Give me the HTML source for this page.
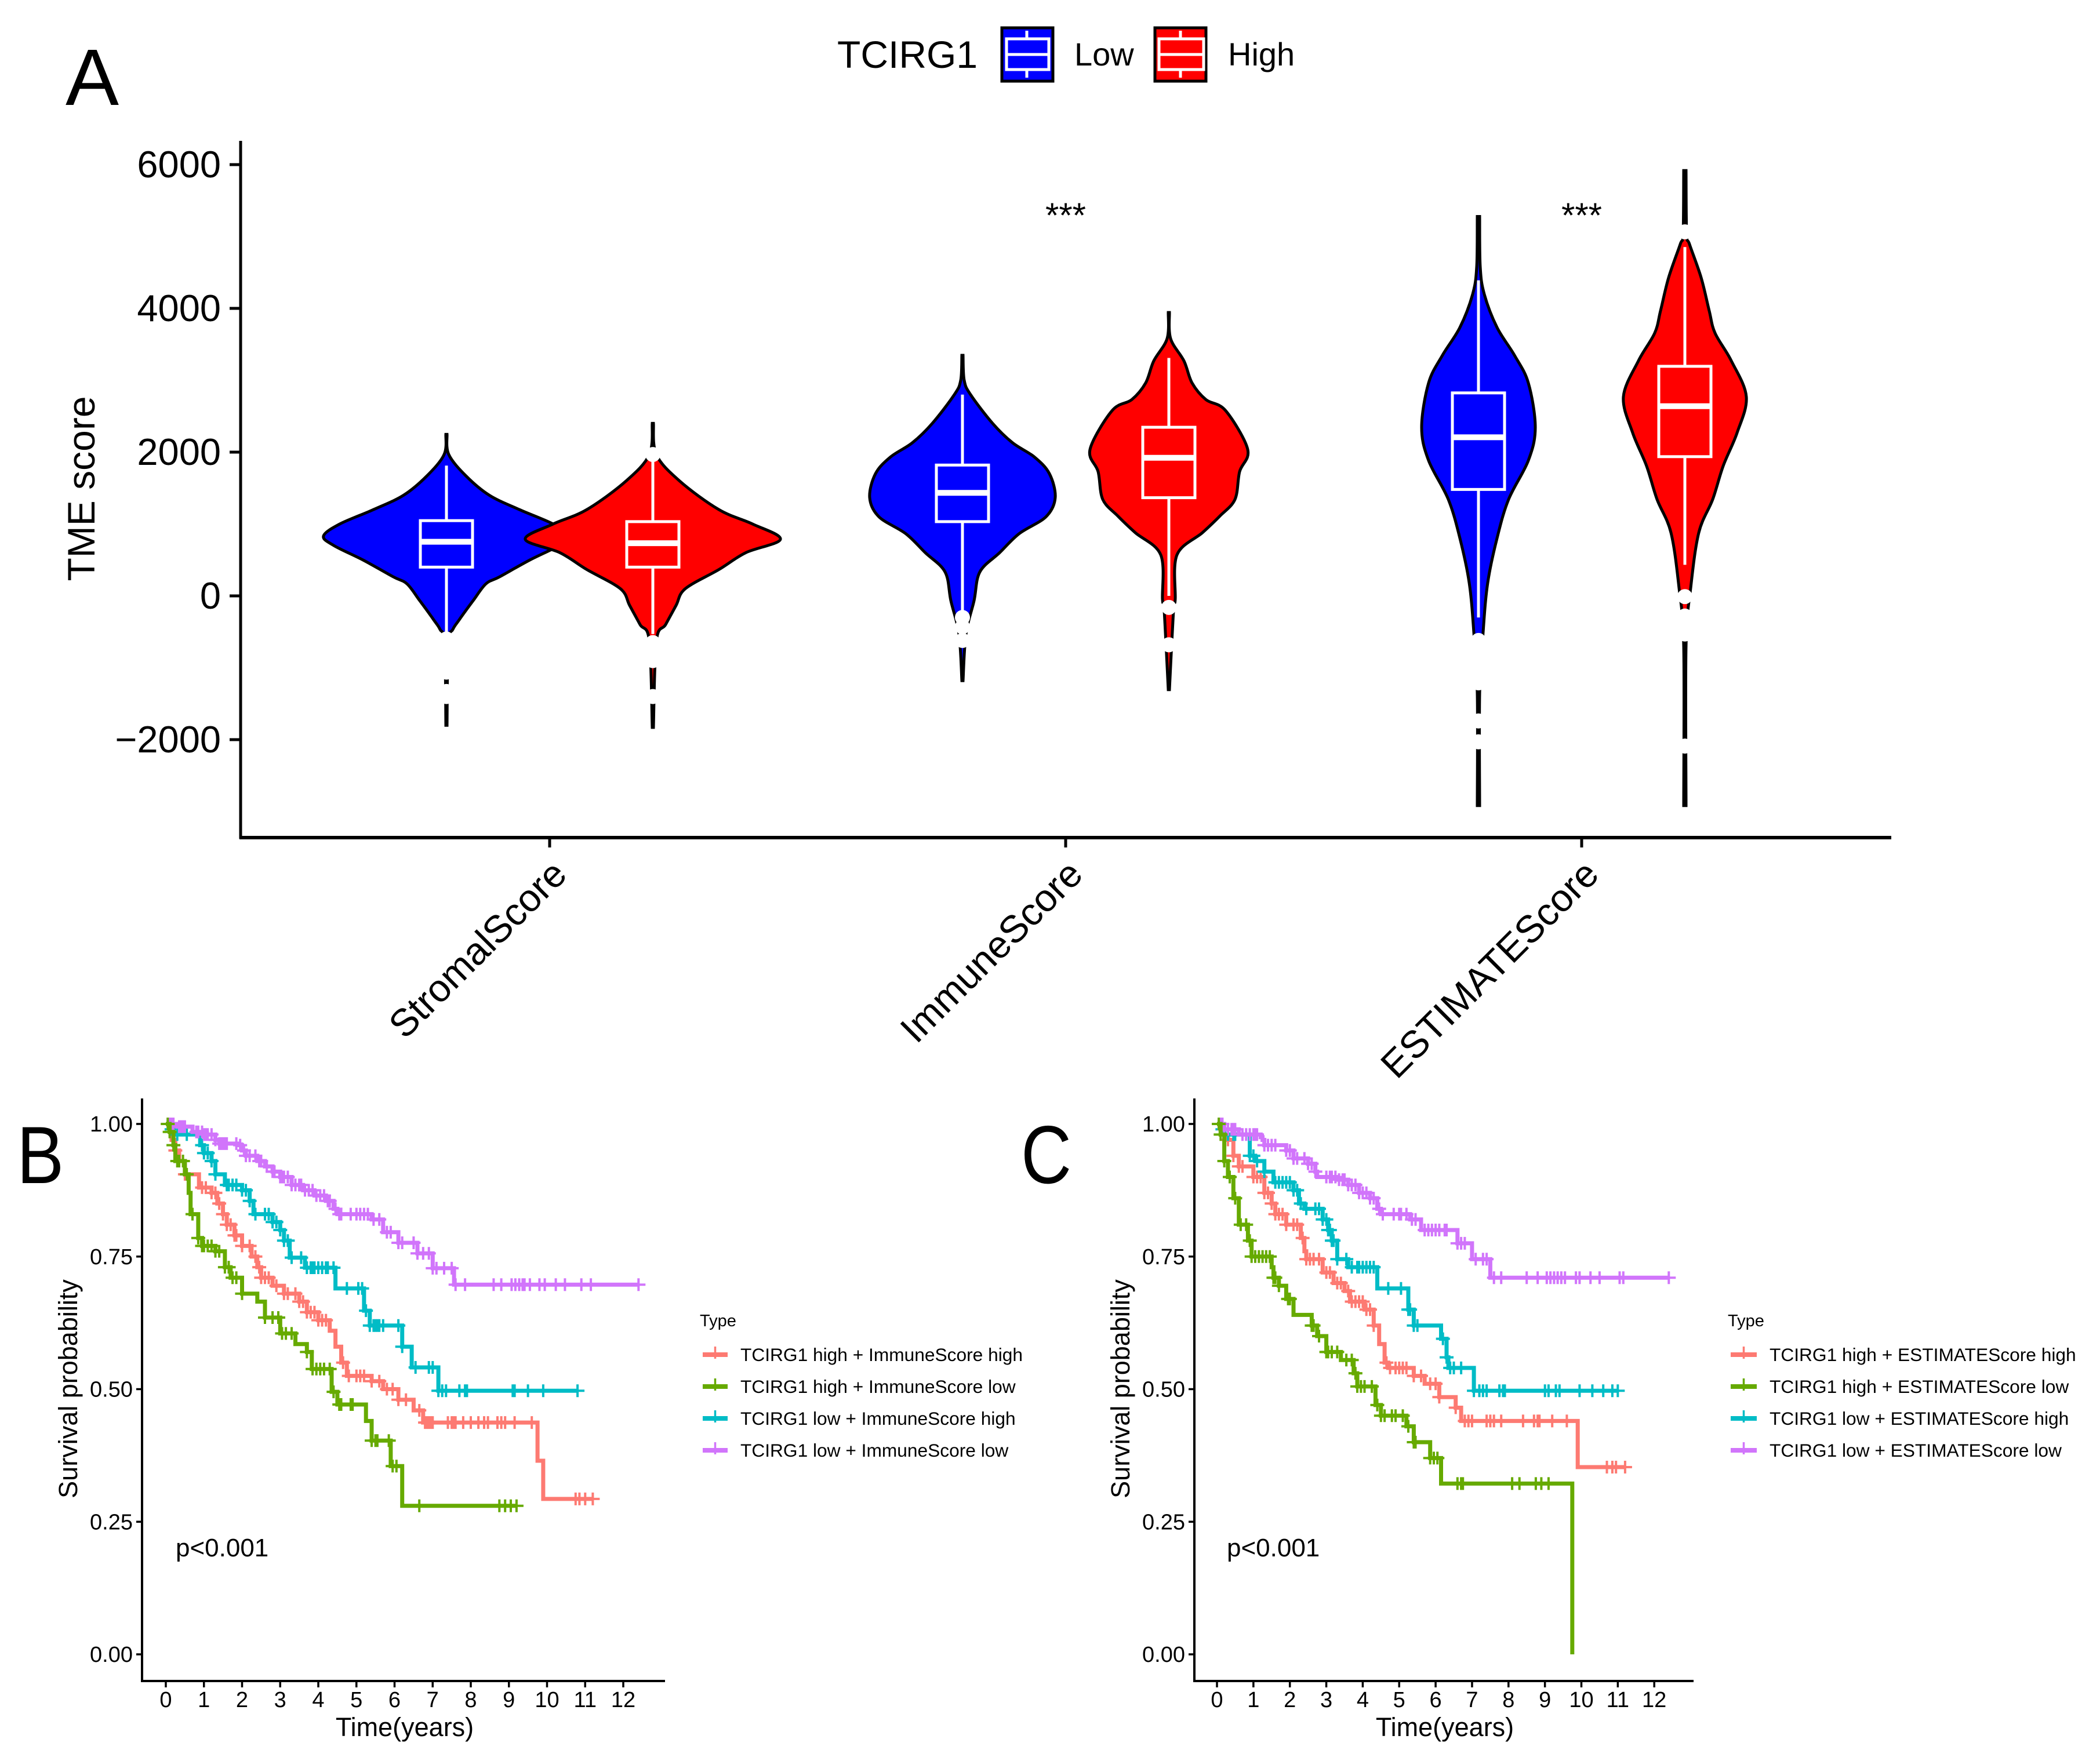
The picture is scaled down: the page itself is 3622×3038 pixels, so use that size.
<!DOCTYPE html>
<html lang="en">
<head>
<meta charset="utf-8">
<title>TCIRG1 TME score and survival</title>
<style>
html,body{margin:0;padding:0;background:#fff;}
svg{display:block;font-family:"Liberation Sans",sans-serif;}
</style>
</head>
<body>
<svg id="figure" xmlns="http://www.w3.org/2000/svg" width="3622" height="3038" viewBox="0 0 3622 3038">
<rect x="0" y="0" width="3622" height="3038" fill="#fff"/>
<text x="113" y="181" font-size="138">A</text>
<text transform="translate(29,2041) scale(.87,1)" font-size="140">B</text>
<text transform="translate(1761,2041) scale(.85,1)" font-size="142">C</text>
<text x="1444" y="117" font-size="66">TCIRG1</text>
<g>
<rect x="1728" y="48" width="88" height="92" fill="#0000ff" stroke="#000" stroke-width="5"/>
<path d="M1771 53V67M1771 120V134M1736 67H1809V120H1736ZM1736 94H1809" fill="none" stroke="#fff" stroke-width="5"/>
<text x="1853" y="113" font-size="56">Low</text>
</g>
<g>
<rect x="1992" y="48" width="88" height="92" fill="#ff0000" stroke="#000" stroke-width="5"/>
<path d="M2036 53V67M2036 120V134M1999 67H2076V120H1999ZM1999 94H2076" fill="none" stroke="#fff" stroke-width="5"/>
<text x="2118" y="113" font-size="56">High</text>
</g>
<text transform="translate(163,843) rotate(-90)" text-anchor="middle" font-size="66">TME score</text>
<text x="1838" y="392" text-anchor="middle" font-size="60">***</text>
<text x="2728" y="392" text-anchor="middle" font-size="60">***</text>
<g id="violinPlot"></g>
<g id="kmB"></g>
<g id="kmC"></g>
</svg>
<script>
/* ---------- Panel A data ---------- */
const categories = ["StromalScore", "ImmuneScore", "ESTIMATEScore"];
const violinTicks = [6000, 4000, 2000, 0, -2000];

const stromalLowValues = [2247,1967,1667,1400,1200,1000,833,700,500,267,167,-67,-333,-467,-667,-1800];
const stromalLowDensity = [0.5,2,17,37,63,92,106,97,72,46,34,23,11,5.5,1.5,0.5];
const stromalHighValues = [2400,1967,1600,1200,1000,787,600,367,100,-133,-400,-633,-1830];
const stromalHighDensity = [0.5,3,23,57,86,110,80,57,28,20,11,3,0.5];
const immuneLowValues = [3347,3000,2800,2400,2133,1933,1700,1367,1100,867,600,333,-67,-533,-1180];
const immuneLowDensity = [0.5,1.5,7,26,43,62,75,80,72,49,32,15,10,3,0.5];
const immuneHighValues = [3943,3580,3270,2963,2731,2577,2037,1728,1342,1111,880,571,-46,-200,-1304];
const immuneHighDensity = [0.5,1.5,13,20,32,49,68,61,57,44,29,7,5.5,4,0.5];
const estimateLowValues = [5278,4583,4198,3735,3349,2963,2346,1883,1343,802,185,-509,-1358,-2917];
const estimateLowDensity = [1,1.5,5,16,31,43,49,43,26,16,8,4,1,1];
const estimateHighValues = [5918,5046,4892,4429,3966,3657,3272,2770,2268,1806,1343,880,108,-700,-2917];
const estimateHighDensity = [1,1.5,4,14,21,26,40,53,45,33,24,12,5,1,1];

/* box statistics in the order: stromal low/high, immune low/high, estimate low/high */
const boxQ1 = [400,400,1033,1366,1481,1937];
const boxMedian = [753,733,1433,1921,2207,2639];
const boxQ3 = [1047,1033,1820,2346,2824,3194];
const whiskerLow = [-533,-530,-280,0,-300,432];
const whiskerHigh = [1813,1867,2800,3310,4390,4853];

const stromalLowOutliers = [-600,-700,-800,-900,-1000,-1060,-1330,-1400];
const stromalHighOutliers = [1967,-650,-730,-830,-900,-1400];
const immuneLowOutliers = [-300,-430,-620];
const immuneHighOutliers = [-160,-680];
const estimateLowOutliers = [-620,-770,-920,-1060,-1210,-1740,-2030];
const estimateHighOutliers = [5065,-10,-280,-400,-530,-2090];

/* ---------- Panel B data ---------- */
const survivalTicksX = [0,1,2,3,4,5,6,7,8,9,10,11,12];
const survivalTicksY = [1,0.75,0.5,0.25,0];

const bSalmonTimes = [0,.15,.25,.35,.5,.87,1.2,1.35,1.5,1.6,1.8,2.0,2.25,2.4,2.5,2.8,3.1,3.5,3.7,4.0,4.3,4.45,4.6,4.75,5.4,5.7,6.1,6.5,6.75,9.75,9.9,11.2];
const bSalmonSurv = [1,.97,.95,.93,.905,.88,.87,.85,.83,.81,.79,.77,.75,.73,.71,.695,.68,.665,.645,.63,.61,.58,.55,.525,.515,.50,.48,.46,.437,.365,.293,.293];
const bSalmonCensor = [.1,.25,.35,.5,.95,1.05,1.2,1.3,1.4,1.5,1.6,1.7,1.8,1.85,2.0,2.2,2.35,2.45,2.5,2.6,2.7,2.9,3.1,3.2,3.4,3.5,3.6,3.7,3.8,3.9,4.0,4.1,4.2,4.65,4.8,5.0,5.1,5.2,5.4,5.6,5.8,5.95,6.1,6.3,6.65,6.8,6.85,6.9,6.95,7.0,7.4,7.5,7.55,7.6,7.8,8.0,8.2,8.35,8.45,8.7,8.8,8.9,9.15,9.6,10.75,10.85,11.0,11.2];

const bGreenTimes = [0,.1,.2,.25,.5,.6,.65,.85,.95,1.3,1.55,1.7,2.0,2.4,2.6,3.0,3.4,3.7,3.83,4.35,4.5,5.25,5.4,5.9,6.2,9.2];
const bGreenSurv = [1,.985,.96,.93,.905,.87,.83,.785,.77,.76,.73,.71,.68,.665,.635,.605,.585,.57,.538,.495,.471,.44,.403,.355,.28,.28];
const bGreenCensor = [.05,.1,.2,.3,.35,.45,.55,.7,.85,.95,1.0,1.1,1.2,1.3,1.4,1.55,1.65,1.75,1.85,2.0,2.6,2.8,2.95,3.05,3.15,3.3,3.7,3.85,3.95,4.05,4.15,4.3,4.4,4.55,4.6,4.85,4.9,5.4,5.5,5.55,5.85,5.95,6.05,6.65,8.75,8.9,9.05,9.2];

const bTealTimes = [0,.1,.2,.9,1.0,1.2,1.3,1.55,2.0,2.2,2.3,2.8,3.0,3.1,3.25,3.65,4.45,5.2,5.35,6.2,6.45,7.15,10.8];
const bTealSurv = [1,.99,.98,.96,.945,.93,.905,.885,.875,.855,.83,.815,.80,.78,.748,.729,.69,.648,.62,.58,.541,.497,.497];
const bTealCensor = [.15,.3,.55,.95,1.0,1.1,1.2,1.3,1.6,1.65,1.75,1.85,2.0,2.1,2.2,2.35,2.6,2.7,2.8,2.9,3.0,3.1,3.2,3.3,3.55,3.7,3.8,3.85,3.9,4.0,4.1,4.2,4.25,4.4,4.75,5.05,5.15,5.25,5.35,5.45,5.5,5.55,5.6,5.7,6.1,6.2,6.55,6.9,7.0,7.15,7.25,7.35,7.7,7.85,7.9,9.1,9.15,9.5,9.9,10.8];

const bPurpleTimes = [0,.3,.7,1.0,1.3,1.4,1.9,2.0,2.1,2.4,2.6,2.8,3.0,3.3,3.6,3.9,4.2,4.4,4.5,5.4,5.7,6.1,6.6,7.0,7.56,12.4];
const bPurpleSurv = [1,.995,.985,.98,.97,.963,.96,.95,.94,.93,.92,.91,.90,.885,.875,.865,.855,.84,.83,.82,.796,.776,.756,.728,.697,.697];
const bPurpleCensor = [.05,.1,.15,.2,.35,.4,.45,.5,.8,.85,.95,1.0,1.05,1.1,1.2,1.3,1.4,1.45,1.5,1.55,1.6,1.85,1.95,2.05,2.1,2.2,2.35,2.45,2.5,2.65,2.8,2.85,3.0,3.05,3.1,3.2,3.3,3.4,3.5,3.55,3.65,3.75,3.85,3.95,4.05,4.15,4.25,4.3,4.45,4.55,4.6,4.85,5.0,5.1,5.2,5.3,5.45,5.6,5.8,5.9,6.1,6.2,6.5,6.6,6.75,6.9,7.0,7.1,7.3,7.5,7.6,7.85,8.6,8.8,9.07,9.17,9.27,9.36,9.41,9.55,9.8,9.94,10.23,10.47,10.9,11.15,12.4];

/* ---------- Panel C data ---------- */
const cSalmonTimes = [0,.15,.3,.45,.6,1.0,1.3,1.5,1.6,1.9,2.3,2.4,2.45,2.9,3.2,3.5,3.65,4.05,4.3,4.45,4.6,4.7,5.4,5.7,6.1,6.55,6.7,9.9,11.2];
const cSalmonSurv = [1,.98,.97,.94,.92,.90,.87,.85,.83,.81,.785,.76,.745,.72,.70,.685,.665,.65,.62,.585,.55,.54,.525,.51,.485,.465,.44,.353,.353];
const cSalmonCensor = [.1,.3,.45,.6,.7,1.0,1.1,1.2,1.3,1.4,1.5,1.6,1.7,1.8,1.9,2.1,2.2,2.35,2.45,2.55,2.65,2.8,3.0,3.1,3.3,3.4,3.6,3.7,3.8,3.9,4.0,4.1,4.2,4.3,4.65,4.75,4.9,5.0,5.1,5.2,5.4,5.6,5.85,6.0,6.1,6.55,6.8,6.9,7.0,7.4,7.5,7.6,7.8,8.4,8.7,8.8,8.85,9.2,9.6,10.7,10.85,10.95,11.2];

const cGreenTimes = [0,.1,.2,.3,.45,.6,.85,.95,1.5,1.55,1.7,1.9,2.1,2.6,2.75,3.0,3.4,3.75,3.85,4.35,4.5,5.2,5.4,5.85,6.15,9.75,9.75];
const cGreenSurv = [1,.98,.93,.90,.86,.81,.78,.75,.73,.71,.695,.67,.64,.62,.60,.57,.555,.53,.505,.47,.45,.43,.40,.37,.322,.322,0];
const cGreenCensor = [.05,.1,.2,.35,.5,.65,.8,.9,.95,1.05,1.15,1.25,1.35,1.45,1.55,1.6,1.7,1.95,2.0,2.6,2.65,2.8,3.0,3.05,3.15,3.3,3.55,3.7,3.8,3.85,3.95,4.05,4.25,4.4,4.5,4.6,4.8,4.9,5.1,5.25,5.4,5.45,5.85,5.95,6.05,6.6,6.7,6.75,8.1,8.3,8.75,8.9,9.1];

const cTealTimes = [0,.1,.2,.9,1.05,1.3,1.55,2.1,2.25,2.4,2.9,3.05,3.15,3.3,3.6,4.4,5.25,5.4,6.15,6.3,6.35,7.05,11];
const cTealSurv = [1,.99,.98,.94,.93,.91,.89,.875,.85,.84,.82,.80,.78,.745,.73,.69,.65,.62,.595,.56,.54,.497,.497];
const cTealCensor = [.15,.3,.45,.5,.9,1.0,1.1,1.3,1.6,1.7,1.8,1.9,2.0,2.1,2.2,2.3,2.45,2.7,2.8,2.9,3.0,3.05,3.1,3.15,3.2,3.3,3.55,3.7,3.85,3.9,4.0,4.1,4.2,4.3,4.7,5.05,5.25,5.3,5.4,5.5,6.2,6.3,6.4,6.5,6.7,7.05,7.2,7.3,7.4,7.75,7.85,7.9,9.0,9.1,9.3,9.4,9.95,10.3,10.6,10.85,11.0];

const cPurpleTimes = [0,.2,.6,1.2,1.25,1.3,1.9,2.1,2.5,2.7,2.75,3.3,3.6,3.9,4.2,4.4,4.5,5.3,5.6,6.6,7.0,7.5,12.4];
const cPurpleSurv = [1,.99,.98,.975,.97,.96,.95,.935,.925,.91,.90,.895,.885,.87,.86,.84,.83,.82,.80,.775,.745,.71,.71];
const cPurpleCensor = [.05,.1,.15,.2,.3,.4,.45,.5,.7,.8,.9,1.0,1.05,1.1,1.3,1.4,1.5,1.6,1.9,2.0,2.1,2.2,2.4,2.5,2.6,2.7,3.0,3.1,3.15,3.25,3.35,3.45,3.5,3.6,3.7,3.8,3.9,4.0,4.1,4.2,4.3,4.45,4.55,4.85,5.0,5.05,5.2,5.35,5.45,5.7,5.8,5.9,6.0,6.1,6.25,6.3,6.6,6.7,6.8,7.1,7.3,7.4,7.6,7.8,8.5,8.8,9.05,9.15,9.25,9.35,9.45,9.55,9.85,9.95,10.25,10.5,11.05,11.15,12.4];

/* ---------- helpers ---------- */
const NS = "http://www.w3.org/2000/svg";
function make(tag, attrs, parent, text) {
  const node = document.createElementNS(NS, tag);
  for (const key in attrs) node.setAttribute(key, attrs[key]);
  if (text !== undefined) node.textContent = text;
  parent.appendChild(node);
  return node;
}
function smoothOpen(points) {
  const n = points.length;
  let d = "";
  for (let i = 0; i < n - 1; i++) {
    const p0 = points[Math.max(i - 1, 0)], p1 = points[i], p2 = points[i + 1], p3 = points[Math.min(i + 2, n - 1)];
    const c1x = p1[0] + (p2[0] - p0[0]) / 6, c1y = p1[1] + (p2[1] - p0[1]) / 6;
    const c2x = p2[0] - (p3[0] - p1[0]) / 6, c2y = p2[1] - (p3[1] - p1[1]) / 6;
    d += "C" + c1x.toFixed(1) + " " + c1y.toFixed(1) + " " + c2x.toFixed(1) + " " + c2y.toFixed(1) + " " + p2[0].toFixed(1) + " " + p2[1].toFixed(1);
  }
  return d;
}

/* ---------- Panel A drawing ---------- */
const violinRoot = document.getElementById("violinPlot");
const scoreY = v => 1028 - v * 0.124;
const categoryX = i => 948 + i * 890;
const dodge = 178;
const densityPx = 2;
const boxHalf = 45;

const yAxisA = make("line", {x1: 415, y1: 243, x2: 415, y2: 1447, stroke: "#000", "stroke-width": 5}, violinRoot);


const xAxisA = make("line", {x1: 413, y1: 1445, x2: 3262, y2: 1445, stroke: "#000", "stroke-width": 6}, violinRoot);



violinTicks.forEach(v => {
  const tick = make("line", {x1: 396, y1: scoreY(v), x2: 415, y2: scoreY(v), stroke: "#000", "stroke-width": 5}, violinRoot);
  
  
  const label = make("text", {x: 381, y: scoreY(v) + 22, "text-anchor": "end", "font-size": 65}, violinRoot, v < 0 ? "\u2212" + Math.abs(v) : String(v));
  
  
});
categories.forEach((c, i) => {
  const tick = make("line", {x1: categoryX(i), y1: 1445, x2: categoryX(i), y2: 1462, stroke: "#000", "stroke-width": 5}, violinRoot);
  
  
  const label = make("text", {transform: "translate(" + (categoryX(i) + 33) + ",1512) rotate(-45)", "text-anchor": "end", "font-size": 66}, violinRoot, c);
  
  
});

const violinValues = [stromalLowValues, stromalHighValues, immuneLowValues, immuneHighValues, estimateLowValues, estimateHighValues];
const violinDensity = [stromalLowDensity, stromalHighDensity, immuneLowDensity, immuneHighDensity, estimateLowDensity, estimateHighDensity];
const violinOutliers = [stromalLowOutliers, stromalHighOutliers, immuneLowOutliers, immuneHighOutliers, estimateLowOutliers, estimateHighOutliers];
const groupFill = ["#0000ff", "#ff0000"];

violinValues.forEach((values, k) => {
  const cat = Math.floor(k / 2), grp = k % 2;
  const cx = categoryX(cat) + (grp === 0 ? -dodge : dodge);
  const dens = violinDensity[k];
  const right = values.map((v, i) => [cx + dens[i] * densityPx, scoreY(v)]);
  const left = values.map((v, i) => [cx - dens[i] * densityPx, scoreY(v)]).reverse();
  const outline = "M" + right[0][0].toFixed(1) + " " + right[0][1].toFixed(1) + smoothOpen(right) +
    "L" + left[0][0].toFixed(1) + " " + left[0][1].toFixed(1) + smoothOpen(left) + "Z";
  const shape = make("path", {d: outline, fill: groupFill[grp], stroke: "#000", "stroke-width": 5, "stroke-linejoin": "miter"}, violinRoot);
  
  

  const whisker = make("path", {d: "M" + cx + " " + scoreY(whiskerHigh[k]) + "V" + scoreY(boxQ3[k]) + "M" + cx + " " + scoreY(boxQ1[k]) + "V" + scoreY(whiskerLow[k]), stroke: "#fff", "stroke-width": 5, fill: "none"}, violinRoot);
  
  
  const box = make("rect", {x: cx - boxHalf, y: scoreY(boxQ3[k]), width: boxHalf * 2, height: scoreY(boxQ1[k]) - scoreY(boxQ3[k]), fill: "none", stroke: "#fff", "stroke-width": 5}, violinRoot);
  
  
  const median = make("line", {x1: cx - boxHalf, x2: cx + boxHalf, y1: scoreY(boxMedian[k]), y2: scoreY(boxMedian[k]), stroke: "#fff", "stroke-width": 10}, violinRoot);
  
  
  violinOutliers[k].forEach(v => {
    const dot = make("circle", {cx: cx, cy: scoreY(v), r: 13, fill: "#fff"}, violinRoot);
    
    
  });
});

/* ---------- Survival panels ---------- */
const survColors = {salmon: "#fd7a72", green: "#66aa00", teal: "#00bcc6", purple: "#d175fb"};
const survY = p => 2854 - p * 915;

function survivalAt(times, surv, t) {
  let s = surv[0];
  for (let i = 0; i < times.length; i++) { if (times[i] <= t) s = surv[i]; }
  return s;
}
function drawSurvival(root, cfg) {
  const X = t => cfg.x0 + t * cfg.unit;
  const axes = make("path", {d: "M" + cfg.axisX + " 1895V2900H" + cfg.axisEnd, fill: "none", stroke: "#000", "stroke-width": 4}, root);
  
  
  survivalTicksX.forEach(t => {
    const tick = make("line", {x1: X(t), x2: X(t), y1: 2900, y2: 2911, stroke: "#000", "stroke-width": 3.5}, root);
    
    
    const label = make("text", {x: X(t), y: 2945, "text-anchor": "middle", "font-size": 38}, root, String(t));
    
    
  });
  survivalTicksY.forEach(p => {
    const tick = make("line", {x1: cfg.axisX - 10, x2: cfg.axisX, y1: survY(p), y2: survY(p), stroke: "#000", "stroke-width": 3.5}, root);
    
    
    const label = make("text", {x: cfg.axisX - 16, y: survY(p) + 13, "text-anchor": "end", "font-size": 38}, root, p.toFixed(2));
    
    
  });
  const xTitle = make("text", {x: cfg.titleX, y: 2995, "text-anchor": "middle", "font-size": 45}, root, "Time(years)");
  
  
  const yTitle = make("text", {transform: "translate(" + cfg.yTitleX + ",2396) rotate(-90)", "text-anchor": "middle", "font-size": 45}, root, "Survival probability");
  
  
  const pText = make("text", {x: cfg.pX, y: 2685, "font-size": 44}, root, "p<0.001");
  
  

  cfg.series.forEach(s => {
    let d = "M" + X(s.times[0]) + " " + survY(s.surv[0]);
    for (let i = 1; i < s.times.length; i++) {
      d += "H" + X(s.times[i]).toFixed(1) + "V" + survY(s.surv[i]).toFixed(1);
    }
    const curve = make("path", {d: d, fill: "none", stroke: survColors[s.color], "stroke-width": 7, "stroke-linejoin": "miter"}, root);
    
    
    s.censor.forEach(t => {
      const cx = X(t), cy = survY(survivalAt(s.times, s.surv, t));
      const mark = make("path", {d: "M" + (cx - 12).toFixed(1) + " " + cy.toFixed(1) + "H" + (cx + 12).toFixed(1) + "M" + cx.toFixed(1) + " " + (cy - 11).toFixed(1) + "V" + (cy + 11).toFixed(1), fill: "none", stroke: survColors[s.color], "stroke-width": 4}, root);
      
      
    });
  });

  const legendTitle = make("text", {x: cfg.legendX - 5, y: 2288, "font-size": 29}, root, "Type");
  
  
  cfg.labels.forEach((lab, i) => {
    const cy = 2337 + i * 55;
    const col = survColors[lab.color];
    const key = make("path", {d: "M" + cfg.legendX + " " + cy + "H" + (cfg.legendX + cfg.keyW), stroke: col, "stroke-width": 8, fill: "none"}, root);
    
    
    const keyTick = make("path", {d: "M" + (cfg.legendX + cfg.keyW / 2) + " " + (cy - 14) + "V" + (cy + 7), stroke: col, "stroke-width": 3.5, fill: "none"}, root);
    
    
    const label = make("text", {x: cfg.legendText, y: cy + 11, "font-size": 31.7}, root, lab.text);
    
    
  });
}

drawSurvival(document.getElementById("kmB"), {
  x0: 286, unit: 65.75, axisX: 245, axisEnd: 1147, titleX: 698, yTitleX: 133, pX: 303,
  legendX: 1212, keyW: 43, legendText: 1277,
  series: [
    {color: "salmon", times: bSalmonTimes, surv: bSalmonSurv, censor: bSalmonCensor},
    {color: "teal", times: bTealTimes, surv: bTealSurv, censor: bTealCensor},
    {color: "purple", times: bPurpleTimes, surv: bPurpleSurv, censor: bPurpleCensor},
    {color: "green", times: bGreenTimes, surv: bGreenSurv, censor: bGreenCensor}
  ],
  labels: [
    {color: "salmon", text: "TCIRG1 high + ImmuneScore high"},
    {color: "green", text: "TCIRG1 high + ImmuneScore low"},
    {color: "teal", text: "TCIRG1 low + ImmuneScore high"},
    {color: "purple", text: "TCIRG1 low + ImmuneScore low"}
  ]
});
drawSurvival(document.getElementById("kmC"), {
  x0: 2099, unit: 62.85, axisX: 2060, axisEnd: 2921, titleX: 2492, yTitleX: 1948, pX: 2116,
  legendX: 2985, keyW: 45, legendText: 3052,
  series: [
    {color: "salmon", times: cSalmonTimes, surv: cSalmonSurv, censor: cSalmonCensor},
    {color: "teal", times: cTealTimes, surv: cTealSurv, censor: cTealCensor},
    {color: "purple", times: cPurpleTimes, surv: cPurpleSurv, censor: cPurpleCensor},
    {color: "green", times: cGreenTimes, surv: cGreenSurv, censor: cGreenCensor}
  ],
  labels: [
    {color: "salmon", text: "TCIRG1 high + ESTIMATEScore high"},
    {color: "green", text: "TCIRG1 high + ESTIMATEScore low"},
    {color: "teal", text: "TCIRG1 low + ESTIMATEScore high"},
    {color: "purple", text: "TCIRG1 low + ESTIMATEScore low"}
  ]
});
</script>
</body>
</html>
